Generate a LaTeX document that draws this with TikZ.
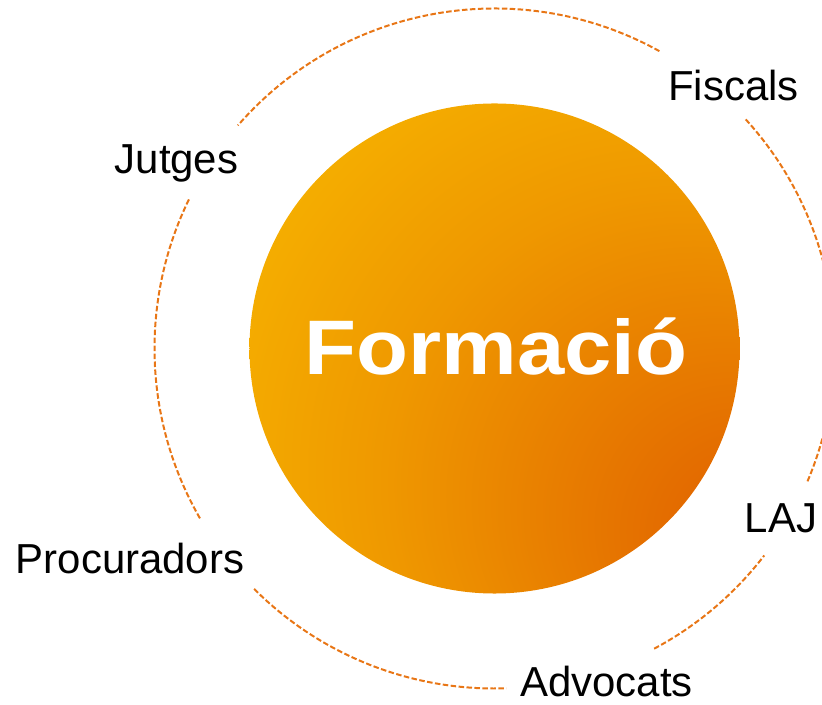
\documentclass[tikz,border=0pt]{standalone}
\usepackage{fontspec}
\setmainfont{Liberation Sans}
\usepackage{tikz}

\definecolor{amarelo}{RGB}{247,182,0}
\definecolor{laranjamedio}{RGB}{239,152,0}
\definecolor{laranjaescuro}{RGB}{227,106,0}
\definecolor{laranjatraco}{RGB}{232,118,22}
\pgfdeclareradialshading{formacio}{\pgfpoint{30bp}{-22bp}}{%
  color(0bp)=(laranjaescuro); color(8bp)=(laranjaescuro);
  color(30bp)=(laranjamedio); color(48bp)=(amarelo); color(80bp)=(amarelo)}

\begin{document}
\begin{tikzpicture}[x=0.03cm, y=0.03cm,
    rotulo/.style={anchor=base, inner sep=0pt, font=\fontsize{35.8}{40}\selectfont},
    titulo/.style={anchor=base, inner sep=0pt, text=white, font=\fontsize{66}{70}\selectfont\bfseries},
    anel/.style={draw=laranjatraco, line width=1.7pt, dash pattern=on 4.7pt off 2.1pt}]
\useasboundingbox (0,0) rectangle (822,704);
\coordinate (C) at (494.5,355.5);
% Circulo central
\node[circle, minimum size=14.7cm, inner sep=0pt, shade, shading=formacio] (nucleo) at (C) {};
\node[titulo] (formacio) at (496,329) {\scalebox{1.1}[1]{Formació}};
% Anel tracejado
\foreach \a/\b in {61/139, 154/210, 225/272, 298/322.5, 337/402.5}
    \draw[anel] (C) ++(\a:340) arc[start angle=\a, end angle=\b, radius=340];
% Rotulos
\foreach \nome/\x/\y/\txt in {fiscals/733.5/603/Fiscals, jutges/176.5/530/Jutges,
    laj/781/171/LAJ, procuradors/130/130/Procuradors, advocats/606.5/8/Advocats}
    \node[rotulo] (\nome) at (\x,\y) {\txt};
\end{tikzpicture}
\end{document}
